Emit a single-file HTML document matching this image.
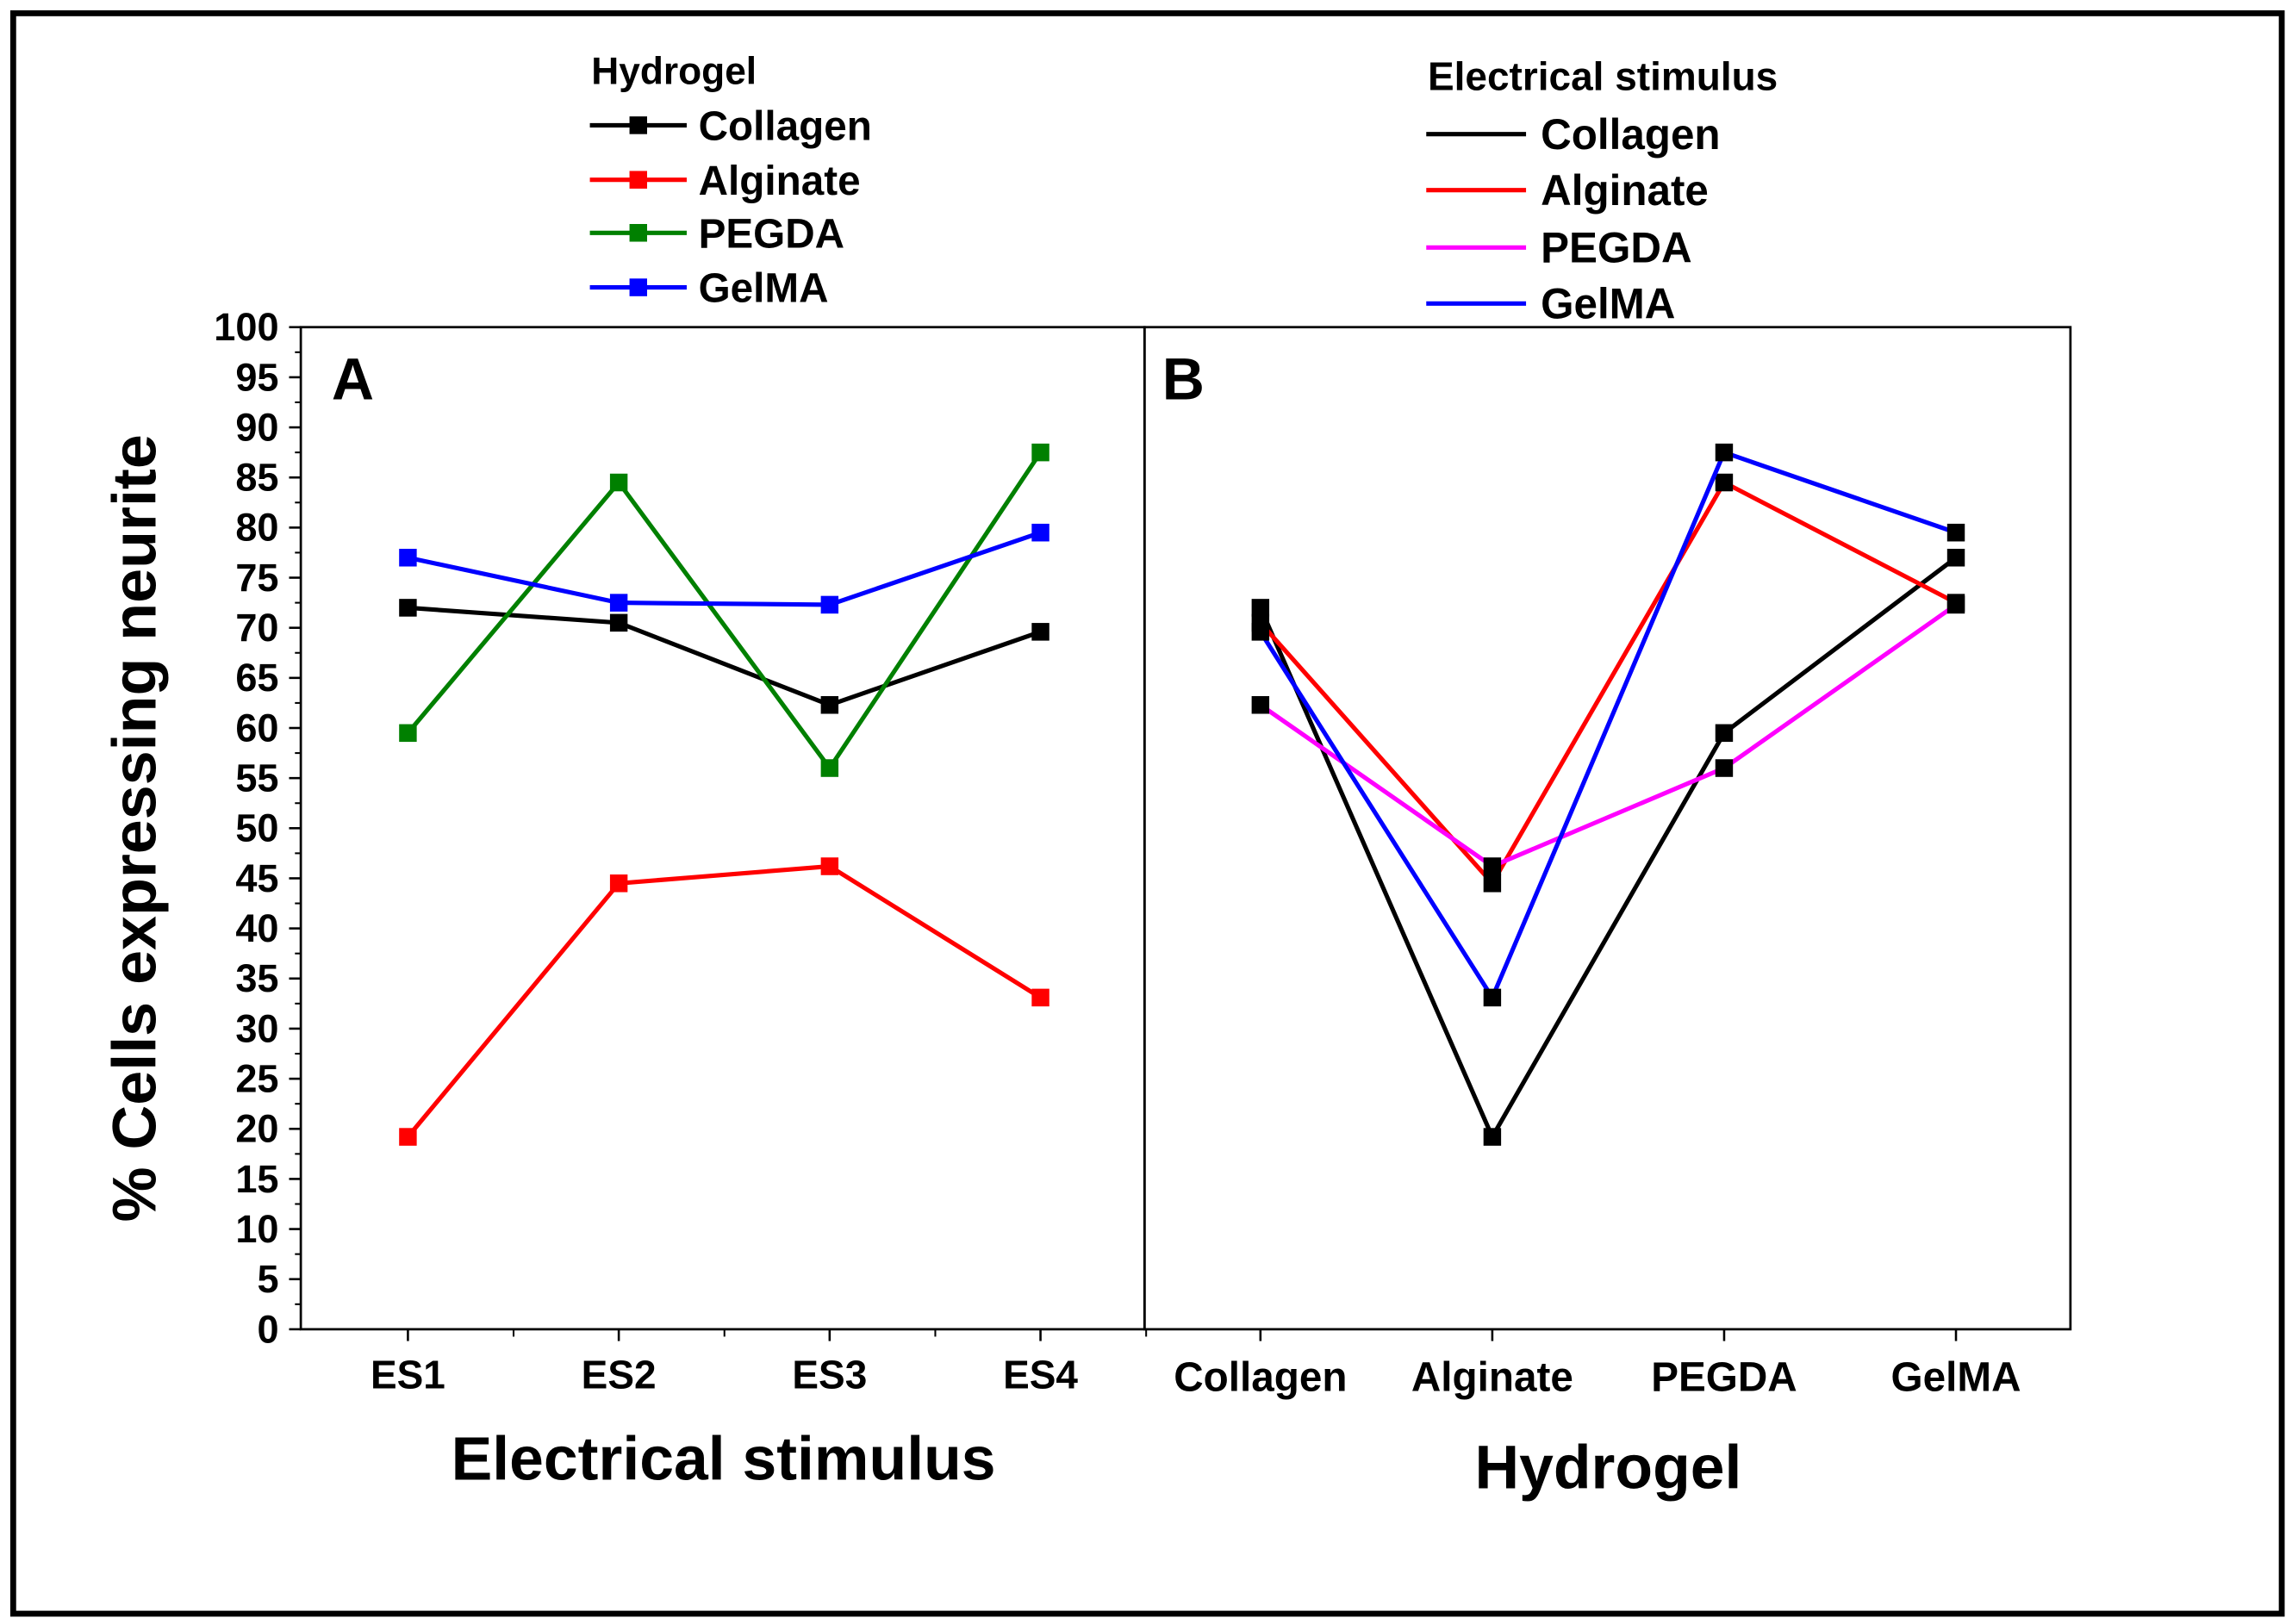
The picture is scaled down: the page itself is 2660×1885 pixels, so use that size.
<!DOCTYPE html>
<html><head><meta charset="utf-8"><style>html,body{margin:0;padding:0;background:#fff}svg{display:block}text{font-family:"Liberation Sans",Arial,sans-serif;font-weight:bold}</style></head>
<body>
<svg id="fig" width="2660" height="1885" viewBox="0 0 1562 1102" preserveAspectRatio="none" xmlns="http://www.w3.org/2000/svg">
<rect x="9" y="9" width="1546" height="1086" fill="#fff" stroke="#000" stroke-width="4"/>
<g id="axes"></g>
<g id="marks"></g>
<g id="legends"></g>
</svg>
<script>
const esCats = ['ES1','ES2','ES3','ES4'];
const hgCats = ['Collagen','Alginate','PEGDA','GelMA'];
const yTicks = [0,5,10,15,20,25,30,35,40,45,50,55,60,65,70,75,80,85,90,95,100];
const collagenVals = [72, 70.5, 62.3, 69.6];
const alginateVals = [19.2, 44.5, 46.2, 33.1];
const pegdaVals = [59.5, 84.5, 56, 87.5];
const gelmaVals = [77, 72.5, 72.3, 79.5];
const es1Vals = [72, 19.2, 59.5, 77];
const es2Vals = [70.5, 44.5, 84.5, 72.5];
const es3Vals = [62.3, 46.2, 56, 72.3];
const es4Vals = [69.6, 33.1, 87.5, 79.5];

const NS='http://www.w3.org/2000/svg';
function mk(tag, attrs, parent, txt){const e=document.createElementNS(NS,tag);for(const k in attrs)e.setAttribute(k,attrs[k]);if(txt!==undefined)e.textContent=txt;parent.appendChild(e);return e;}
const Y0=902, Y1=222;
function y(v){return Y0-(v/100)*(Y0-Y1);}
function xA(i){return 278+i*143.7;}
function xB(i){return 859+i*158;}
const axes=document.getElementById('axes'), marks=document.getElementById('marks'), legends=document.getElementById('legends');

let f=mk('rect',{x:205,y:222,width:575,height:680,fill:'none',stroke:'#000','stroke-width':1.6},axes);


f=mk('rect',{x:780,y:222,width:631,height:680,fill:'none',stroke:'#000','stroke-width':1.6},axes);



yTicks.forEach(v=>{
  const l=mk('line',{x1:197,x2:205,y1:y(v),y2:y(v),stroke:'#000','stroke-width':1.5},axes);
  
  
  if(v<100){const m=mk('line',{x1:201,x2:205,y1:y(v+2.5),y2:y(v+2.5),stroke:'#000','stroke-width':1.2},axes);
  
  }
  const t=mk('text',{x:190,y:y(v)+9,'text-anchor':'end','font-size':26.5},axes,String(v));
  
  
});
esCats.forEach((c,i)=>{
  const l=mk('line',{x1:xA(i),x2:xA(i),y1:902,y2:910,stroke:'#000','stroke-width':1.5},axes);
  
  
  const m=mk('line',{x1:xA(i)+72,x2:xA(i)+72,y1:902,y2:907,stroke:'#000','stroke-width':1.2},axes);
  
  
  const t=mk('text',{x:xA(i),y:942,'text-anchor':'middle','font-size':27},axes,c);
  
  
});
hgCats.forEach((c,i)=>{
  const l=mk('line',{x1:xB(i),x2:xB(i),y1:902,y2:910,stroke:'#000','stroke-width':1.5},axes);
  
  
  const t=mk('text',{x:xB(i),y:944,'text-anchor':'middle','font-size':28},axes,c);
  
  
});
let t=mk('text',{x:493,y:1004,'text-anchor':'middle','font-size':42},axes,'Electrical stimulus');


t=mk('text',{x:1096,y:1010,'text-anchor':'middle','font-size':42},axes,'Hydrogel');


t=mk('text',{x:0,y:0,'text-anchor':'middle','font-size':42,transform:'translate(106,562) rotate(-90)'},axes,'% Cells expressing neurite');


t=mk('text',{x:226,y:271,'font-size':40},axes,'A');


t=mk('text',{x:792,y:271,'font-size':40},axes,'B');



function series(vals,xf,color,mcol,name){
  const g=mk('g',{},marks);
  
  
  const p=mk('polyline',{points:vals.map((v,i)=>xf(i)+','+y(v)).join(' '),fill:'none',stroke:color,'stroke-width':3},g);
  
  
  vals.forEach((v,i)=>{
    const r=mk('rect',{x:xf(i)-6,y:y(v)-6,width:12,height:12,fill:mcol},g);
    
    
  });
}
series(collagenVals,xA,'#000','#000','a-collagen');
series(alginateVals,xA,'#f00','#f00','a-alginate');
series(pegdaVals,xA,'#008000','#008000','a-pegda');
series(gelmaVals,xA,'#00f','#00f','a-gelma');
series(es1Vals,xB,'#000','#000','b-collagen');
series(es2Vals,xB,'#f00','#000','b-alginate');
series(es3Vals,xB,'#f0f','#000','b-pegda');
series(es4Vals,xB,'#00f','#000','b-gelma');

t=mk('text',{x:403,y:57,'font-size':26},legends,'Hydrogel');


const legA=[['Collagen','#000',85],['Alginate','#f00',122],['PEGDA','#008000',158],['GelMA','#00f',195]];
legA.forEach(([n,c,ly])=>{
  const g=mk('g',{},legends);
  
  
  mk('line',{x1:402,x2:468,y1:ly,y2:ly,stroke:c,'stroke-width':3},g);
  mk('rect',{x:429,y:ly-6,width:12,height:12,fill:c},g);
  mk('text',{x:476,y:ly+10,'font-size':28},g,n);
});
t=mk('text',{x:973,y:61,'font-size':27},legends,'Electrical stimulus');


const legB=[['Collagen','#000',91],['Alginate','#f00',129],['PEGDA','#f0f',168],['GelMA','#00f',206]];
legB.forEach(([n,c,ly])=>{
  const g=mk('g',{},legends);
  
  
  mk('line',{x1:972,x2:1040,y1:ly,y2:ly,stroke:c,'stroke-width':3},g);
  mk('text',{x:1050,y:ly+10,'font-size':29},g,n);
});
</script>
</body></html>
